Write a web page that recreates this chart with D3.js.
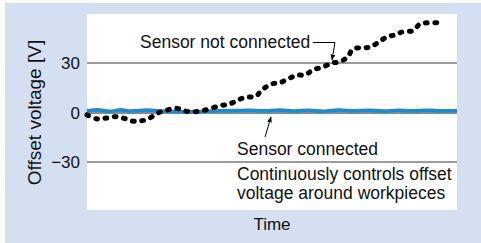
<!DOCTYPE html>
<html lang="en">
<head>
<meta charset="UTF-8"/>
<title>Offset voltage vs time</title>
<script src="https://d3js.org/d3.v7.min.js"></script>
<style>
  body { margin: 0; background: #fff; }
  text { font-family: "Liberation Sans", Arial, Helvetica, sans-serif; fill: #111; }
</style>
</head>
<body>
<div id="chart"></div>
<script>
    // Time axis (arbitrary units 0-100) and the two measured series
    const notConnectedT = [0, 2.7, 5.4, 7.6, 9.7, 12.2, 14.3, 16.5, 19.2, 21.6, 24.3, 26.5, 29.2, 31.9,
        35.9, 38.6, 40.8, 43.2, 45.4, 47.6, 50, 52.2, 54.3, 56.8, 58.9, 61.1, 63.8, 66.2, 68.4,
        70.5, 71.9, 74.3, 76.5, 78.6, 81.1, 83.2, 85.4, 88.1, 90, 92.2, 94.6];
    const notConnectedV = [-1.5, -3.9, -3.3, -2.5, -3.3, -5.2, -5.2, -3.9, -0.3, 1.5, 2.5, 0.9, 0.5, 1.5,
        4.1, 5.2, 7.6, 9.4, 9.6, 14.2, 17.3, 18.1, 20.3, 22.7, 22.7, 25.8, 27.6, 30, 30.8,
        33.8, 38.5, 39.1, 39.7, 42.3, 45.9, 47, 49, 49.6, 53.6, 54.4, 54.4];

    const connectedT = [0, 3, 6, 9, 12, 16, 20, 24, 28, 32, 36, 40, 44, 48, 52, 56, 60, 64, 68,
        72, 76, 80, 84, 88, 92, 96, 100];
    const connectedV = [1.0, 1.7, 0.7, 1.6, 0.9, 1.5, 1.0, 0.6, 0.5, 0.7, 1.0, 1.2, 1.3, 1.0, 1.5,
        0.9, 1.4, 0.8, 1.5, 1.0, 1.4, 0.9, 1.3, 1.0, 1.4, 1.0, 1.2];

    const yTicks = [30, 0, -30];
    const yTickLabels = ["30", "0", "\u221230"];

    const w = 481, h = 243;
    const plot = { left: 87, right: 457, top: 14, bottom: 210 };

    const svg = d3.select("#chart").append("svg")
        .attr("width", w)
        .attr("height", h);

    // light blue panel
    svg.append("rect")
        .attr("x", 5).attr("y", 3)
        .attr("width", w - 5).attr("height", h - 3)
        .attr("fill", "#d4e0f2");

    // white plot area
    svg.append("rect")
        .attr("x", plot.left).attr("y", plot.top)
        .attr("width", plot.right - plot.left)
        .attr("height", plot.bottom - plot.top)
        .attr("fill", "#fff");

    const x = d3.scaleLinear().domain([0, 100]).range([plot.left, plot.right]);
    const y = d3.scaleLinear().domain([-30, 30]).range([162, 63]);

    // grid lines
    svg.selectAll(".grid")
        .data(yTicks)
        .enter()
        .append("line")
        .attr("class", "grid")
        .attr("x1", plot.left).attr("x2", plot.right)
        .attr("y1", d => y(d)).attr("y2", d => y(d))
        .attr("stroke", d => d === 0 ? "#8a8a8a" : "#3a3a3a")
        .attr("stroke-width", d => d === 0 ? 3 : 1.1);

    // tick labels
    svg.selectAll(".tick-label")
        .data(yTicks)
        .enter()
        .append("text")
        .attr("class", "tick-label")
        .attr("x", 80)
        .attr("y", d => y(d) + 6)
        .attr("text-anchor", "end")
        .attr("font-size", "17px")
        .text((d, i) => yTickLabels[i]);

    // sensor connected line (blue)
    const connected = connectedT.map((t, i) => ({ t: t, v: connectedV[i] }));
    svg.append("path")
        .datum(connected)
        .attr("fill", "none")
        .attr("stroke", "#1a8bd0")
        .attr("stroke-width", 3.5)
        .attr("d", d3.line().x(d => x(d.t)).y(d => y(d.v)).curve(d3.curveCatmullRom));

    // sensor not connected line (dotted)
    const notConnected = notConnectedT.map((t, i) => ({ t: t, v: notConnectedV[i] }));
    svg.append("path")
        .datum(notConnected)
        .attr("fill", "none")
        .attr("stroke", "#000")
        .attr("stroke-width", 5)
        .attr("stroke-linecap", "round")
        .attr("stroke-dasharray", "1.8 7.6")
        .attr("d", d3.line().x(d => x(d.t)).y(d => y(d.v)).curve(d3.curveCatmullRom));

    // arrow marker
    svg.append("defs").append("marker")
        .attr("id", "arrow")
        .attr("viewBox", "0 0 10 10")
        .attr("refX", 9).attr("refY", 5)
        .attr("markerWidth", 6).attr("markerHeight", 7)
        .attr("orient", "auto")
        .append("path")
        .attr("d", "M0,1 L10,5 L0,9 Z")
        .attr("fill", "#000");

    // annotation: sensor not connected
    svg.append("text")
        .attr("x", 140).attr("y", 48)
        .attr("font-size", "17.5px")
        .text("Sensor not connected");
    svg.append("path")
        .attr("d", "M313,42.5 L335,42.5 L332,60")
        .attr("fill", "none")
        .attr("stroke", "#000")
        .attr("stroke-width", 1)
        .attr("marker-end", "url(#arrow)");

    // annotation: sensor connected
    svg.append("path")
        .attr("d", "M265,137 L271,117")
        .attr("fill", "none")
        .attr("stroke", "#000")
        .attr("stroke-width", 1)
        .attr("marker-end", "url(#arrow)");
    svg.append("text")
        .attr("x", 237).attr("y", 155)
        .attr("font-size", "17.5px")
        .text("Sensor connected");
    svg.append("text")
        .attr("x", 237).attr("y", 180)
        .attr("font-size", "17.5px")
        .text("Continuously controls offset");
    svg.append("text")
        .attr("x", 237).attr("y", 199)
        .attr("font-size", "17.5px")
        .text("voltage around workpieces");

    // axis titles
    svg.append("text")
        .attr("x", (plot.left + plot.right) / 2)
        .attr("y", 230)
        .attr("text-anchor", "middle")
        .attr("font-size", "17px")
        .text("Time");

    svg.append("text")
        .attr("transform", `translate(41, ${y(0)}) rotate(-90)`)
        .attr("text-anchor", "middle")
        .attr("font-size", "19px")
        .text("Offset voltage [V]");
</script>
</body>
</html>
